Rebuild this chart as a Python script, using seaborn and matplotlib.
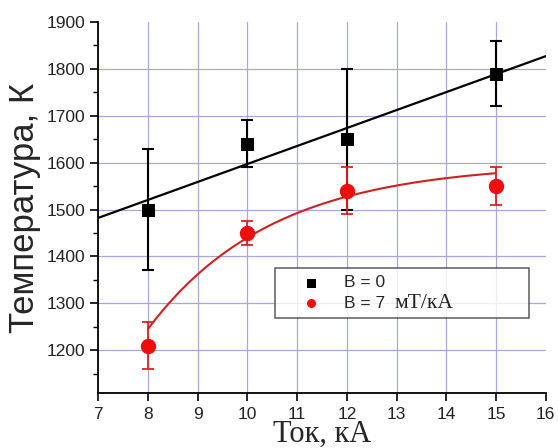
import numpy as np
import pandas as pd
import matplotlib
matplotlib.use("Agg")
import matplotlib.pyplot as plt
import seaborn as sns

# ---- data ----
current = [8, 10, 12, 15]
temp_b0 = [1500, 1640, 1650, 1790]
err_b0 = [130, 50, 150, 70]
temp_b7 = [1210, 1450, 1540, 1550]
err_b7 = [50, 25, 50, 40]
# saturating-exponential fit for B = 7 curve: y = Y0 - A*exp(-(x-8)/T)
fit7_y0 = 1599
fit7_a = 354
fit7_t = 2.5
x_ticks = [7, 8, 9, 10, 11, 12, 13, 14, 15, 16]
y_ticks = [1200, 1300, 1400, 1500, 1600, 1700, 1800, 1900]

sns.set_theme(style="white")
plt.rcParams['font.family'] = ['Liberation Sans', 'DejaVu Sans']

fig = plt.figure(figsize=(5.58, 4.48), dpi=100)
ax = fig.add_axes([0.176, 0.122, 0.802, 0.829])

grid_c = "#a8a8d8"
for x in x_ticks[1:-1]:
    ax.axvline(x, color=grid_c, lw=0.9, zorder=0)
for y in y_ticks[:-1]:
    ax.axhline(y, color=grid_c, lw=0.9, zorder=0)

# linear fit for B = 0
k, b = np.polyfit(current, temp_b0, 1)
xl = np.array([7.0, 16.0])
sns.lineplot(x=xl, y=k * xl + b, color="black", lw=1.6, ax=ax, zorder=2)

# exponential fit for B = 7
xc = np.linspace(8, 15, 100)
yc = fit7_y0 - fit7_a * np.exp(-(xc - 8) / fit7_t)
sns.lineplot(x=xc, y=yc, color="#d02020", lw=1.5, ax=ax, zorder=2)

ax.errorbar(current, temp_b0, yerr=err_b0, fmt="none", ecolor="black",
            elinewidth=1.5, capsize=4, capthick=1.5, zorder=3)
ax.errorbar(current, temp_b7, yerr=err_b7, fmt="none", ecolor="#e02020",
            elinewidth=1.3, capsize=4, capthick=1.3, zorder=3)

df = pd.DataFrame({"x": current * 2, "y": temp_b0 + temp_b7,
                   "s": ["B = 0"] * 4 + ["B = 7"] * 4})
sns.scatterplot(data=df[df.s == "B = 0"], x="x", y="y", marker="s", s=85,
                color="black", edgecolor="black", ax=ax, zorder=4,
                label="B = 0")
sns.scatterplot(data=df[df.s == "B = 7"], x="x", y="y", marker="o", s=105,
                color="#ee0e0e", edgecolor="#ee0e0e", ax=ax, zorder=4,
                label="B = 7")

ax.set_xlim(7, 16)
ax.set_ylim(1108, 1900)
ax.set_xticks(x_ticks)
ax.set_yticks(y_ticks)
ax.set_yticks(np.arange(1150, 1900, 100), minor=True)
ax.tick_params(axis="both", which="major", direction="out", length=6,
               width=1.2, labelsize=12.5, color="black", labelcolor="#222222",
               bottom=True, left=True)
ax.tick_params(axis="y", which="minor", direction="out", length=3.5,
               width=1.0, left=True, color="black")
for s in ["top", "right"]:
    ax.spines[s].set_visible(False)
for s in ["left", "bottom"]:
    ax.spines[s].set_color("black")
    ax.spines[s].set_linewidth(1.3)

ax.set_xlabel("Ток, кА", family=["Liberation Serif", "DejaVu Serif"],
              fontsize=22, labelpad=-1)
ax.set_ylabel("Температура, К", fontsize=25, labelpad=4)

leg = ax.legend(loc="upper left", bbox_to_anchor=(0.395, 0.194, 0.567, 0.143),
                mode="expand", frameon=True, fancybox=False,
                edgecolor="#333333", fontsize=12.5, handletextpad=0.2,
                borderpad=0.4, labelspacing=0.3, handlelength=3.4,
                borderaxespad=0, markerscale=0.55)
leg.get_frame().set_linewidth(1.1)

fig.canvas.draw()
t7 = leg.get_texts()[1]
bb = t7.get_window_extent()
fig.text(bb.x1 + 9, (bb.y0 + bb.y1) / 2, "мТ/кА", transform=None,
         family=["Liberation Serif", "DejaVu Serif"], fontsize=15.5,
         va="center", ha="left", color="#222222")

fig.savefig("out.png", dpi=100)
